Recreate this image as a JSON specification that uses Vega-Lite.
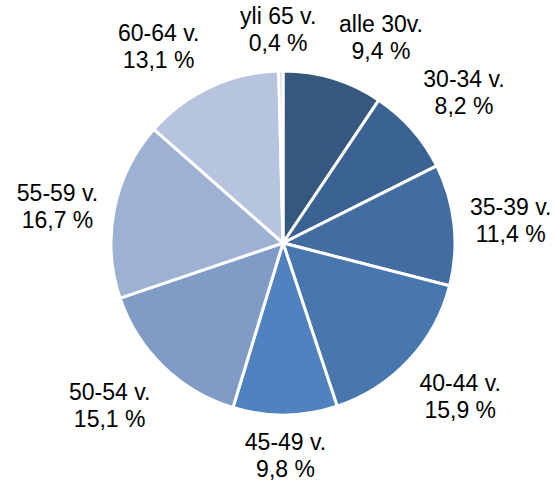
{
  "$schema": "https://vega.github.io/schema/vega-lite/v6.json",
  "autosize": "none",
  "width": 544,
  "height": 476,
  "padding": {"left": 11, "top": 5, "right": 0, "bottom": 0},
  "background": "white",
  "view": {"stroke": null},
  "config": {
    "text": {"font": "Liberation Sans", "fontSize": 23, "lineBreak": "\n", "lineHeight": 27, "align": "center", "baseline": "middle", "color": "black"}
  },
  "data": {
    "values": [
      {"i": 1, "group": "alle 30v.", "value": 9.4, "label": "alle 30v.\n9,4 %"},
      {"i": 2, "group": "30-34 v.", "value": 8.2, "label": "30-34 v.\n8,2 %"},
      {"i": 3, "group": "35-39 v.", "value": 11.4, "label": "35-39 v.\n11,4 %"},
      {"i": 4, "group": "40-44 v.", "value": 15.9, "label": "40-44 v.\n15,9 %"},
      {"i": 5, "group": "45-49 v.", "value": 9.8, "label": "45-49 v.\n9,8 %"},
      {"i": 6, "group": "50-54 v.", "value": 15.1, "label": "50-54 v.\n15,1 %"},
      {"i": 7, "group": "55-59 v.", "value": 16.7, "label": "55-59 v.\n16,7 %"},
      {"i": 8, "group": "60-64 v.", "value": 13.1, "label": "60-64 v.\n13,1 %"},
      {"i": 9, "group": "yli 65 v.", "value": 0.4, "label": "yli 65 v.\n0,4 %"}
    ]
  },
  "encoding": {
    "theta": {"field": "value", "type": "quantitative", "stack": true},
    "order": {"field": "i", "type": "quantitative"}
  },
  "layer": [
    {
      "mark": {"type": "arc", "outerRadius": 172, "stroke": "white", "strokeWidth": 3},
      "encoding": {
        "color": {
          "field": "group",
          "type": "nominal",
          "sort": null,
          "scale": {
            "domain": ["alle 30v.", "30-34 v.", "35-39 v.", "40-44 v.", "45-49 v.", "50-54 v.", "55-59 v.", "60-64 v.", "yli 65 v."],
            "range": ["#36587F", "#3A6293", "#416DA0", "#4877B0", "#4F82BE", "#7F9BC6", "#9DB1D3", "#B6C4DF", "#C9D3E8"]
          },
          "legend": null
        }
      }
    },
    {
      "mark": {"type": "text", "radius": 237, "dx": 29, "dy": 9},
      "encoding": {"text": {"condition": {"test": "datum.group === 'alle 30v.'", "field": "label"}, "value": ""}}
    },
    {
      "mark": {"type": "text", "radius": 244, "dx": -2, "dy": -2},
      "encoding": {"text": {"condition": {"test": "datum.group === '30-34 v.'", "field": "label"}, "value": ""}}
    },
    {
      "mark": {"type": "text", "radius": 230, "dx": -1, "dy": -10},
      "encoding": {"text": {"condition": {"test": "datum.group === '35-39 v.'", "field": "label"}, "value": ""}}
    },
    {
      "mark": {"type": "text", "radius": 226, "dx": 12, "dy": -13},
      "encoding": {"text": {"condition": {"test": "datum.group === '40-44 v.'", "field": "label"}, "value": ""}}
    },
    {
      "mark": {"type": "text", "radius": 200, "dx": 0, "dy": 0},
      "encoding": {"text": {"condition": {"test": "datum.group === '45-49 v.'", "field": "label"}, "value": ""}}
    },
    {
      "mark": {"type": "text", "radius": 229, "dx": -14, "dy": -14},
      "encoding": {"text": {"condition": {"test": "datum.group === '50-54 v.'", "field": "label"}, "value": ""}}
    },
    {
      "mark": {"type": "text", "radius": 231, "dx": 1, "dy": -4},
      "encoding": {"text": {"condition": {"test": "datum.group === '55-59 v.'", "field": "label"}, "value": ""}}
    },
    {
      "mark": {"type": "text", "radius": 242, "dx": -22, "dy": 10},
      "encoding": {"text": {"condition": {"test": "datum.group === '60-64 v.'", "field": "label"}, "value": ""}}
    },
    {
      "mark": {"type": "text", "radius": 226, "dx": -2, "dy": 0},
      "encoding": {"text": {"condition": {"test": "datum.group === 'yli 65 v.'", "field": "label"}, "value": ""}}
    }
  ]
}
